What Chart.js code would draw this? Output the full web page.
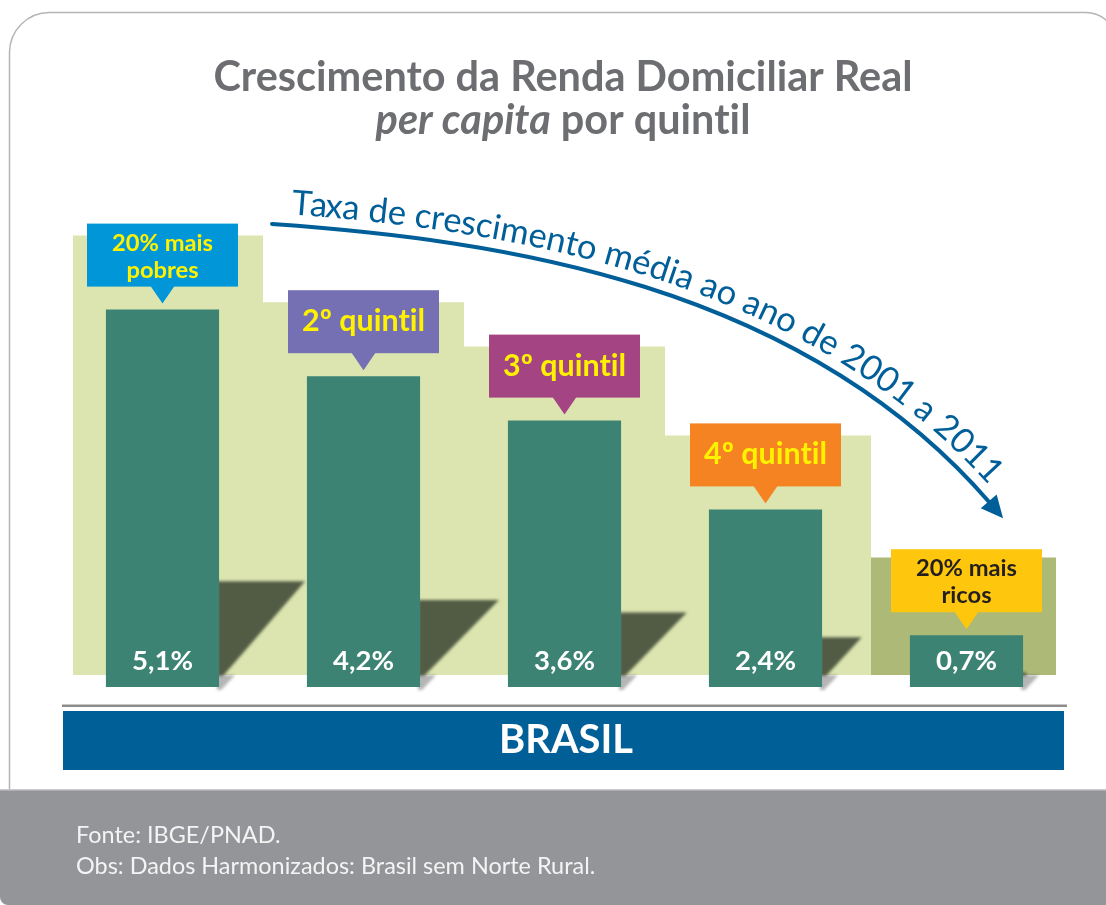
<!DOCTYPE html>
<html lang="pt-BR">
<head>
<meta charset="utf-8">
<title>Crescimento da Renda Domiciliar Real per capita por quintil</title>
<script src="https://cdn.jsdelivr.net/npm/chart.js@4.4.1/dist/chart.umd.min.js"></script>
<style>
  html, body { margin: 0; padding: 0; background: #fff; }
  canvas { display: block; }
</style>
</head>
<body>
<canvas id="rendaChart" width="1106" height="905"></canvas>
<script>
// dados
const quintis = ["20% mais pobres", "2º quintil", "3º quintil", "4º quintil", "20% mais ricos"];
const rotulosBalao = [["20% mais", "pobres"], ["2º quintil"], ["3º quintil"], ["4º quintil"], ["20% mais", "ricos"]];
const taxas = [5.1, 4.2, 3.6, 2.4, 0.7];
const tituloLinha1 = "Crescimento da Renda Domiciliar Real";
const tituloItalico = "per capita";
const tituloResto = " por quintil";
const textoSeta = "Taxa de crescimento média ao ano de 2001 a 2011";
const regiao = "BRASIL";
const notas = ["Fonte: IBGE/PNAD.", "Obs: Dados Harmonizados: Brasil sem Norte Rural."];

// estilo
const FONT = "Lato, 'Open Sans', sans-serif";
const corBarra = "#3c8374";
const coresBalao = ["#0096d8", "#7570b3", "#a54483", "#f58321", "#fec70d"];
const corTextoBalao = ["#fff200", "#fff200", "#fff200", "#fff200", "#231f20"];
const corSeta = "#005f99";

function fitSize(ctx, text, font, targetW) {
  ctx.font = font.replace("SIZE", "100px");
  return 100 * targetW / ctx.measureText(text).width;
}

function fmt(v) {
  return v.toFixed(1).replace(".", ",") + "%";
}

// curva da seta (cubica)
const P = [[272, 224], [500, 240], [800, 283], [990, 503]];
function bez(t) {
  const u = 1 - t;
  const a = u * u * u, b = 3 * u * u * t, c = 3 * u * t * t, d = t * t * t;
  return [a * P[0][0] + b * P[1][0] + c * P[2][0] + d * P[3][0],
          a * P[0][1] + b * P[1][1] + c * P[2][1] + d * P[3][1]];
}
function bezD(t) {
  const u = 1 - t;
  const dx = 3 * u * u * (P[1][0] - P[0][0]) + 6 * u * t * (P[2][0] - P[1][0]) + 3 * t * t * (P[3][0] - P[2][0]);
  const dy = 3 * u * u * (P[1][1] - P[0][1]) + 6 * u * t * (P[2][1] - P[1][1]) + 3 * t * t * (P[3][1] - P[2][1]);
  return [dx, dy];
}

const decor = {
  id: "decor",
  beforeDraw(chart) {
    const ctx = chart.ctx;
    const W = chart.width, H = chart.height;
    ctx.save();
    ctx.letterSpacing = "0.01px"; // evita a ligadura "ti" do Lato
    ctx.fillStyle = "#fff";
    ctx.fillRect(0, 0, W, H);

    // moldura
    ctx.strokeStyle = "#b5b5b5";
    ctx.lineWidth = 1.5;
    ctx.beginPath();
    ctx.moveTo(9.5, 790);
    ctx.lineTo(9.5, 52);
    ctx.arcTo(9.5, 12.5, 49.5, 12.5, 40);
    ctx.lineTo(1086, 12.5);
    ctx.arc(1086, 42.5, 30, -Math.PI / 2, -0.2);
    ctx.stroke();

    // titulo
    ctx.fillStyle = "#6d6e71";
    ctx.textAlign = "left";
    ctx.textBaseline = "alphabetic";
    let s = fitSize(ctx, tituloLinha1, "bold SIZE " + FONT, 699);
    ctx.font = "bold " + s + "px " + FONT;
    let w = ctx.measureText(tituloLinha1).width;
    ctx.fillText(tituloLinha1, 563 - w / 2, 91);
    ctx.font = "italic bold " + s + "px " + FONT;
    const wi = ctx.measureText(tituloItalico).width;
    ctx.font = "bold " + s + "px " + FONT;
    const wr = ctx.measureText(tituloResto).width;
    const x0 = 563 - (wi + wr) / 2;
    ctx.font = "italic bold " + s + "px " + FONT;
    ctx.fillText(tituloItalico, x0, 134);
    ctx.font = "bold " + s + "px " + FONT;
    ctx.fillText(tituloResto, x0 + wi, 134);

    // faixa BRASIL
    const area = chart.chartArea;
    ctx.fillStyle = "#8d8d8d";
    ctx.fillRect(area.left, 704.5, area.right - area.left, 2.5);
    ctx.fillStyle = "#005f96";
    ctx.fillRect(area.left + 1, 711, area.right - area.left - 4, 59);
    ctx.fillStyle = "#fff";
    s = fitSize(ctx, regiao, "bold SIZE " + FONT, 134);
    ctx.font = "bold " + s + "px " + FONT;
    ctx.textAlign = "center";
    ctx.fillText(regiao, 566, 753);

    // rodape
    ctx.fillStyle = "#939598";
    ctx.beginPath();
    ctx.moveTo(0, 790);
    ctx.lineTo(W, 790);
    ctx.lineTo(W, H);
    ctx.lineTo(8, H);
    ctx.arcTo(0, H, 0, H - 8, 8);
    ctx.closePath();
    ctx.fill();
    ctx.fillStyle = "#c9cacc";
    ctx.fillRect(0, 789, W, 1.5);
    ctx.fillStyle = "#f4f4f4";
    ctx.textAlign = "left";
    s = fitSize(ctx, notas[1], "SIZE " + FONT, 519);
    ctx.font = s + "px " + FONT;
    ctx.fillText(notas[0], 76, 843);
    ctx.fillText(notas[1], 76, 874);
    ctx.restore();
  },
  beforeDatasetsDraw(chart) {
    const ctx = chart.ctx;
    const meta = chart.getDatasetMeta(0);
    const y = chart.scales.y;
    const area = chart.chartArea;
    const cw = (area.right - area.left) / taxas.length;
    const baseY = y.getPixelForValue(0);
    const fundo = baseY - 12;
    ctx.save();

    // degraus verde claro
    ctx.fillStyle = "#dce5b0";
    ctx.beginPath();
    ctx.moveTo(area.left + 11, fundo);
    for (let i = 0; i < 4; i++) {
      const top = y.getPixelForValue(taxas[i] + 1.0);
      const l = i === 0 ? area.left + 11 : area.left + i * cw;
      const r = i === 3 ? area.left + 4 * cw + 5 : area.left + (i + 1) * cw;
      ctx.lineTo(l, top);
      ctx.lineTo(r, top);
    }
    ctx.lineTo(area.left + 4 * cw + 5, fundo);
    ctx.closePath();
    ctx.fill();

    // caixa verde escura (20% mais ricos)
    ctx.fillStyle = "#adb977";
    const t5 = y.getPixelForValue(taxas[4] + 1.05);
    ctx.fillRect(area.left + 4 * cw + 5, t5, cw - 16, fundo - t5);

    // sombras
    meta.data.forEach((el) => {
      const R = el.x + el.width / 2;
      const topY = el.base - 0.28 * (el.base - el.y);
      const w = Math.min(86, (fundo - topY) * 1.05);
      ctx.filter = "blur(1.5px)";
      ctx.fillStyle = "#525c45";
      ctx.beginPath();
      ctx.moveTo(R - 2, topY);
      ctx.lineTo(R + w, topY);
      ctx.lineTo(R + 4, fundo + 1);
      ctx.lineTo(R - 2, fundo + 1);
      ctx.closePath();
      ctx.fill();
      ctx.fillStyle = "rgba(90,90,90,0.45)";
      ctx.beginPath();
      ctx.moveTo(R - 2, fundo);
      ctx.lineTo(R + 16, fundo);
      ctx.lineTo(R + 2, el.base + 3);
      ctx.lineTo(R - 2, el.base + 3);
      ctx.closePath();
      ctx.fill();
      ctx.filter = "none";
    });
    ctx.restore();
  },
  afterDatasetsDraw(chart) {
    const ctx = chart.ctx;
    const meta = chart.getDatasetMeta(0);
    ctx.save();
    ctx.letterSpacing = "0.01px";

    // valores dentro das barras
    ctx.fillStyle = "#fff";
    ctx.textAlign = "center";
    ctx.textBaseline = "alphabetic";
    let s = fitSize(ctx, "4,2%", "bold SIZE " + FONT, 61);
    ctx.font = "bold " + s + "px " + FONT;
    meta.data.forEach((el, i) => {
      ctx.fillText(fmt(taxas[i]), el.x, el.base - 17);
    });

    // baloes
    const s2 = fitSize(ctx, "20% mais", "bold SIZE " + FONT, 101);
    const s1 = fitSize(ctx, "2º quintil", "bold SIZE " + FONT, 123);
    meta.data.forEach((el, i) => {
      const cx = el.x;
      const bb = el.y - 23;
      const bt = bb - 63;
      ctx.fillStyle = coresBalao[i];
      ctx.fillRect(cx - 75.5, bt, 151, 63);
      ctx.beginPath();
      ctx.moveTo(cx - 12, bb - 0.5);
      ctx.lineTo(cx + 12, bb - 0.5);
      ctx.lineTo(cx, bb + 17);
      ctx.closePath();
      ctx.fill();
      ctx.fillStyle = corTextoBalao[i];
      const linhas = rotulosBalao[i];
      if (linhas.length === 2) {
        ctx.font = "bold " + s2 + "px " + FONT;
        ctx.fillText(linhas[0], cx, bt + 27);
        ctx.fillText(linhas[1], cx, bt + 54);
      } else {
        ctx.font = "bold " + s1 + "px " + FONT;
        ctx.fillText(linhas[0], cx, bt + 41);
      }
    });

    // seta curva
    ctx.strokeStyle = corSeta;
    ctx.lineWidth = 4;
    ctx.lineCap = "round";
    ctx.beginPath();
    ctx.moveTo(P[0][0], P[0][1]);
    ctx.bezierCurveTo(P[1][0], P[1][1], P[2][0], P[2][1], P[3][0], P[3][1]);
    ctx.stroke();
    const dE = bezD(1);
    const LE = Math.hypot(dE[0], dE[1]);
    const ux = dE[0] / LE, uy = dE[1] / LE;
    const tip = [P[3][0] + ux * 20, P[3][1] + uy * 20];
    ctx.fillStyle = corSeta;
    ctx.beginPath();
    ctx.moveTo(tip[0], tip[1]);
    ctx.lineTo(P[3][0] - uy * 10.5 - ux * 2, P[3][1] + ux * 10.5 - uy * 2);
    ctx.lineTo(P[3][0] + uy * 10.5 - ux * 2, P[3][1] - ux * 10.5 - uy * 2);
    ctx.closePath();
    ctx.fill();

    // texto ao longo da curva
    const off = 11;
    const N = 800;
    const pts = [];
    let acc = 0;
    for (let k = 0; k <= N; k++) {
      const t = k / N;
      const p = bez(t);
      const d = bezD(t);
      const L = Math.hypot(d[0], d[1]);
      const q = { bx: p[0], x: p[0] + d[1] / L * off, y: p[1] - d[0] / L * off, a: Math.atan2(d[1], d[0]) };
      if (k > 0) acc += Math.hypot(q.x - pts[k - 1].x, q.y - pts[k - 1].y);
      q.s = acc;
      pts.push(q);
    }
    const sStart = pts.find((q) => q.bx >= 290).s;
    const sEnd = pts.find((q) => q.bx >= 980).s;
    s = fitSize(ctx, textoSeta, "SIZE " + FONT, sEnd - sStart);
    ctx.font = s + "px " + FONT;
    const at = (sv) => {
      let k = 1;
      while (k < pts.length - 1 && pts[k].s < sv) k++;
      const a = pts[k - 1], b = pts[k];
      const f = (sv - a.s) / Math.max(1e-6, b.s - a.s);
      return { x: a.x + (b.x - a.x) * f, y: a.y + (b.y - a.y) * f, a: a.a + (b.a - a.a) * f };
    };
    ctx.fillStyle = corSeta;
    ctx.textAlign = "center";
    for (let i = 0; i < textoSeta.length; i++) {
      const ch = textoSeta[i];
      const pre = ctx.measureText(textoSeta.slice(0, i)).width;
      const cwid = ctx.measureText(textoSeta.slice(0, i + 1)).width - pre;
      if (ch === " ") continue;
      const q = at(sStart + pre + cwid / 2);
      ctx.save();
      ctx.translate(q.x, q.y);
      ctx.rotate(q.a);
      ctx.fillText(ch, 0, 0);
      ctx.restore();
    }
    ctx.restore();
  }
};

const ctx = document.getElementById("rendaChart").getContext("2d");
const rendaChart = new Chart(ctx, {
  type: "bar",
  data: {
    labels: quintis,
    datasets: [
      {
        label: "Taxa de crescimento (%)",
        data: taxas,
        backgroundColor: corBarra,
        borderWidth: 0,
        barPercentage: 1,
        categoryPercentage: 0.563
      }
    ]
  },
  options: {
    responsive: false,
    animation: false,
    layout: {
      padding: { left: 62, right: 39, top: 95, bottom: 218 }
    },
    plugins: {
      legend: { display: false },
      tooltip: { enabled: false }
    },
    scales: {
      x: { display: false },
      y: { display: false, min: 0, max: 8 }
    }
  },
  plugins: [decor]
});
</script>
</body>
</html>
